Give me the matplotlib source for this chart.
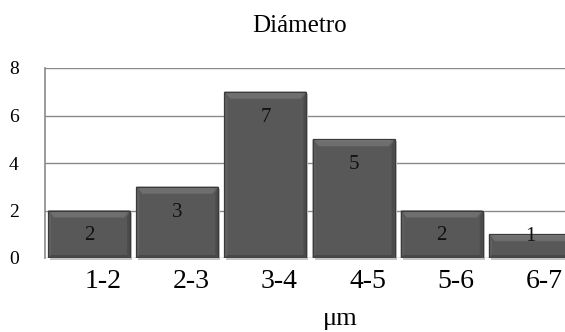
import matplotlib
matplotlib.use("Agg")
import matplotlib.pyplot as plt
import matplotlib.patches as patches
import matplotlib.transforms as mtransforms

# diameter classes (um) and counts
categories = ["1-2", "2-3", "3-4", "4-5", "5-6", "6-7"]
counts = [2, 3, 7, 5, 2, 1]
y_ticks = [0, 2, 4, 6, 8]

plt.rcParams['font.family'] = ['Liberation Serif', 'DejaVu Serif']

W, H = 565, 332
fig = plt.figure(figsize=(W / 100, H / 100), dpi=100)
# axes run slightly past the right edge of the figure
ax = fig.add_axes([45 / W, (H - 258) / H, 529 / W, 190 / H])
ax.set_xlim(-0.5, 5.5)
ax.set_ylim(0, 8)

# size of one pixel in data units
px_x = 6 / 529
px_y = 8 / 190

grid_col = '#8a8a8a'
for t in y_ticks:
    ax.axhline(t, color=grid_col, lw=1.0, zorder=0)
for s in ['top', 'right', 'bottom']:
    ax.spines[s].set_visible(False)
ax.spines['left'].set_color(grid_col)
ax.spines['left'].set_linewidth(1.2)

width = 0.93
for i, v in enumerate(counts):
    x0, x1 = i - width / 2, i + width / 2
    y0, y1 = 0, v
    # soft shadow
    ax.add_patch(patches.Rectangle((x0 + 2 * px_x, y0 - 2 * px_y), width, v,
                                   color='#c4c4c4', lw=0, zorder=1, clip_on=False))
    # body
    ax.add_patch(patches.Rectangle((x0, y0), width, v, facecolor='#585858',
                                   edgecolor='none', lw=0, zorder=2))
    bx, by = 6 * px_x, 7 * px_y
    sx, sb = 3 * px_x, 3 * px_y
    # bevel faces
    ax.add_patch(patches.Polygon([(x0, y1), (x1, y1), (x1 - bx, y1 - by), (x0 + bx, y1 - by)],
                                 closed=True, facecolor='#6e6e6e', lw=0, zorder=3))
    ax.add_patch(patches.Polygon([(x0, y1), (x1, y1), (x1 - bx, y1 - 2 * px_y), (x0 + bx, y1 - 2 * px_y)],
                                 closed=True, facecolor='#7c7c7c', lw=0, zorder=3))
    ax.add_patch(patches.Polygon([(x0, y0), (x0, y1), (x0 + sx, y1 - by), (x0 + sx, y0 + sb)],
                                 closed=True, facecolor='#626262', lw=0, zorder=3))
    ax.add_patch(patches.Polygon([(x1, y0), (x1, y1), (x1 - sx, y1 - by), (x1 - sx, y0 + sb)],
                                 closed=True, facecolor='#4b4b4b', lw=0, zorder=3))
    ax.add_patch(patches.Polygon([(x0, y0), (x1, y0), (x1 - sx, y0 + sb), (x0 + sx, y0 + sb)],
                                 closed=True, facecolor='#484848', lw=0, zorder=3))
    ax.add_patch(patches.Rectangle((x0, y0), width, v, facecolor='none',
                                   edgecolor='#3a3a3a', lw=0.9, zorder=4))
    # value label inside the top end of the bar
    ax.text(i, max(v - 1.07, 0.9), str(v), ha='center', va='center',
            fontsize=15, color='#111111', zorder=5)

ax.set_xticks(range(len(categories)))
ax.set_xticklabels(categories, fontsize=20)
ax.set_yticks(y_ticks)
ax.set_yticklabels([str(t) for t in y_ticks], fontsize=14)
ax.tick_params(axis='x', length=0, pad=8)
ax.tick_params(axis='y', length=0, pad=19)
shift = mtransforms.ScaledTranslation(14 / 100, 0, fig.dpi_scale_trans)
for lbl in ax.get_xticklabels():
    lbl.set_transform(lbl.get_transform() + shift)

fig.text(300 / W, 1 - 26 / H, "Diámetro", ha='center', va='center', fontsize=18)
fig.text(340 / W, 1 - 319 / H, "μm", ha='center', va='center', fontsize=19)

fig.savefig("out.png", dpi=100)
